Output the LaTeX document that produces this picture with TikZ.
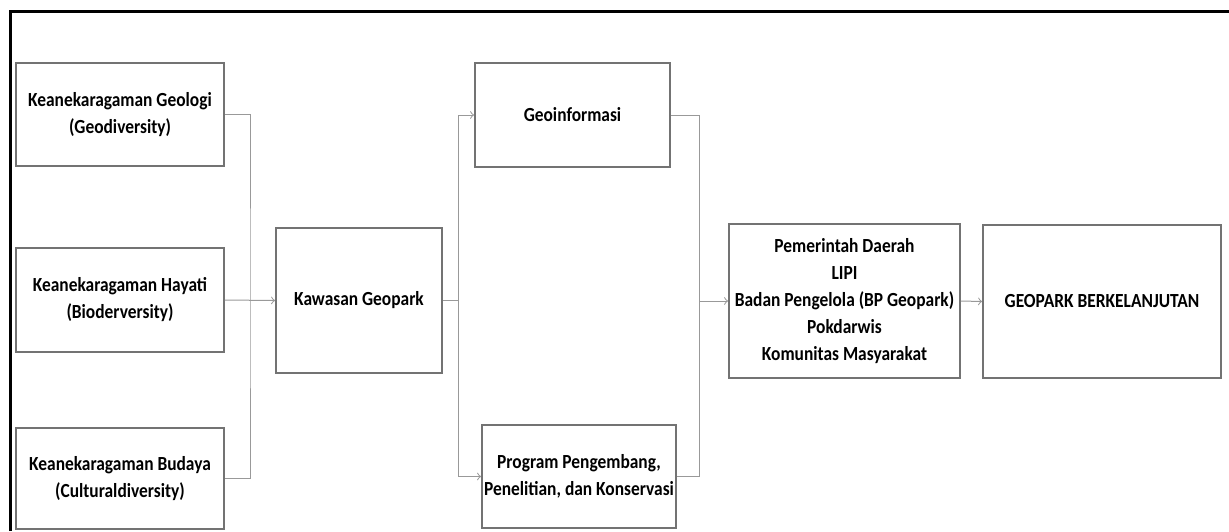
\documentclass[tikz,border=0pt]{standalone}
\usepackage{fontspec}
\setmainfont{Carlito}[FakeStretch=0.87]
\usetikzlibrary{calc}
\tikzset{
  box/.style={draw=black!55, line width=0.9pt, inner sep=0pt, align=center,
    font=\fontsize{10}{13.5}\selectfont\bfseries},
  link/.style={draw=black!40, line width=0.5pt},
}

\begin{document}
\begin{tikzpicture}[x=0.5pt, y=-0.5pt]
		%%%%% START %%%%%
		\useasboundingbox (0, 0) rectangle (1229, 531);
		\draw[line width=1.5pt] (10, 531) -- (10, 11) -- (1229, 11);
		
		% sources
		\node[box, minimum width=104pt, minimum height=51.5pt] (geo) at (120, 114.5) {Keanekaragaman Geologi\\(Geodiversity)};
		\node[box, minimum width=104pt, minimum height=52pt] (hayati) at (120, 300) {Keanekaragaman Hayati\\(Bioderversity)};
		\node[box, minimum width=104pt, minimum height=50.5pt] (budaya) at (120, 478.5) {Keanekaragaman Budaya\\(Culturaldiversity)};
		
		\node[box, minimum width=83pt, minimum height=72.5pt] (kawasan) at (359, 300.5) {Kawasan Geopark};
		
		\node[box, minimum width=97.5pt, minimum height=52pt] (geoinfo) at (572.5, 115) {Geoinformasi};
		\node[box, minimum width=97pt, minimum height=51.5pt] (program) at (579, 476.5) {Program Pengembang,\\Penelitian, dan Konservasi};
		
		\node[box, minimum width=115.5pt, minimum height=77pt] (pemda) at (844.5, 301) {Pemerintah Daerah\\LIPI\\Badan Pengelola (BP Geopark)\\Pokdarwis\\Komunitas Masyarakat};
		\node[box, minimum width=119pt, minimum height=76.5pt] (geopark) at (1102, 301.5) {GEOPARK BERKELANJUTAN};
		
		% joints
		\coordinate (j1) at ($(hayati.east)!.5!(kawasan.west)$);
		\coordinate (j2) at ($(kawasan.east)+(16, 0)$);
		\coordinate (j3) at ($(pemda.west)+(-29, 0)$);
		
		\draw[link] (geo.east) -| (j1) |- (budaya.east);
		\draw[link, ->] (hayati.east) -- (kawasan.west);
		
		\draw[link] (kawasan.east) -- (j2);
		\draw[link, ->] (j2) |- (geoinfo.west);
		\draw[link, ->] (j2) |- (program.west);
		
		\draw[link] (geoinfo.east) -| (j3) |- (program.east);
		\draw[link, ->] (j3) -- (pemda.west);
		\draw[link, ->] (pemda.east) -- (geopark.west);
		%%%%% END %%%%%
\end{tikzpicture}
\end{document}
